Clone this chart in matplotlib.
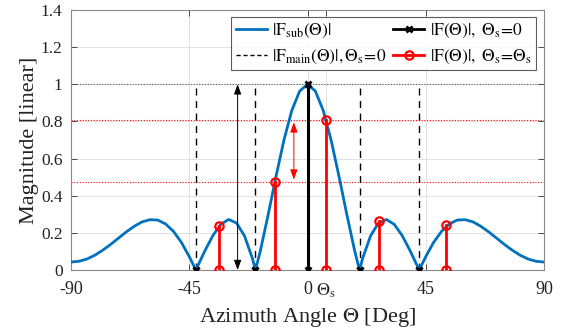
import matplotlib
matplotlib.use('Agg')
import matplotlib.pyplot as plt
from matplotlib.lines import Line2D
import numpy as np

plt.rcParams['font.family'] = ['Liberation Serif', 'DejaVu Serif']
plt.rcParams['mathtext.fontset'] = 'stix'

# |F_sub(theta)| (deg, linear)
theta = [-90, -87, -84, -81, -78, -75, -72, -69, -66, -63, -60, -57, -54, -51, -48, -45,
         -42.5, -42, -39, -36, -33, -30, -27, -24, -21, -19.8, -18, -15, -12, -9, -6, -3,
         0, 3, 6, 9, 12, 15, 18, 19.8, 21, 24, 27, 30, 33, 36, 39, 42, 42.5,
         45, 48, 51, 54, 57, 60, 63, 66, 69, 72, 75, 78, 81, 84, 87, 90]
f_sub = [0.043, 0.047, 0.059, 0.079, 0.106, 0.137, 0.171, 0.205, 0.235, 0.259, 0.271, 0.269, 0.248, 0.208, 0.149, 0.072,
         0.0, 0.015, 0.105, 0.186, 0.246, 0.272, 0.253, 0.184, 0.064, 0.0, 0.100, 0.296, 0.503, 0.698, 0.858, 0.963,
         1.0, 0.963, 0.858, 0.698, 0.503, 0.296, 0.100, 0.0, 0.064, 0.184, 0.253, 0.272, 0.246, 0.186, 0.105, 0.015, 0.0,
         0.072, 0.149, 0.208, 0.248, 0.269, 0.271, 0.259, 0.235, 0.205, 0.171, 0.137, 0.106, 0.079, 0.059, 0.047, 0.043]

# samples of the full pattern, steered to 0 and steered to theta_s
black_ang = [-42.5, -19.8, 0, 19.8, 42.5]
black_val = [0, 0, 1, 0, 0]
red_ang = [-33.6, -12.4, 6.9, 27.3, 52.8]
red_val = [0.239, 0.472, 0.81, 0.265, 0.24]
theta_s = 6.9

xticks = [-90, -45, 0, theta_s, 45, 90]
xticklabels = ['-90', '-45', '0', r'$\Theta_\mathrm{s}$', '45', '90']
yticks = [0, 0.2, 0.4, 0.6, 0.8, 1, 1.2, 1.4]
yticklabels = ['0', '0.2', '0.4', '0.6', '0.8', '1', '1.2', '1.4']

# where the two double arrows sit
arrow_main_x = -26.6
arrow_red_x = -5.2

blue = '#0072BD'

fig = plt.figure(figsize=(5.61, 3.32), dpi=100)
ax = fig.add_axes([0.1266, 0.1867, 0.8431, 0.7832])

ax.plot(theta, f_sub, color=blue, lw=2, zorder=3)

# dashed main-beam lines at the nulls
nulls = [a for a, v in zip(black_ang, black_val) if v == 0]
ax.vlines(nulls, 0, 1, colors='k', linestyles=(0, (5, 4)), lw=1, zorder=2)

# dotted reference levels
ax.axhline(max(black_val), color='#555555', ls=(0, (1, 1.5)), lw=0.8, zorder=1)
ax.axhline(red_val[2], color='r', ls=(0, (1, 1.5)), lw=0.8, zorder=1)
ax.axhline(red_val[1], color='r', ls=(0, (1, 1.5)), lw=0.8, zorder=1)

for a, v in zip(black_ang, black_val):
    ax.plot([a, a], [0, v], color='k', lw=2.2, marker='x', ms=4, mew=2, zorder=4)
for a, v in zip(red_ang, red_val):
    ax.plot([a, a], [0, v], color='r', lw=2, marker='o', ms=6, mew=1.6, mfc='none', zorder=5)

ax.annotate('', xy=(arrow_main_x, max(black_val)), xytext=(arrow_main_x, 0),
            arrowprops=dict(arrowstyle='<|-|>,head_length=0.6,head_width=0.22', color='k', lw=0.7,
                            shrinkA=0, shrinkB=0), zorder=6)
ax.annotate('', xy=(arrow_red_x, red_val[2]), xytext=(arrow_red_x, red_val[1]),
            arrowprops=dict(arrowstyle='<|-|>,head_length=0.6,head_width=0.22', color='r', lw=0.7,
                            shrinkA=2, shrinkB=2), zorder=6)

ax.set_xlim(-90, 90)
ax.set_ylim(0, 1.4)
ax.set_xticks(xticks)
ax.set_xticklabels(xticklabels)
ax.set_yticks(yticks)
ax.set_yticklabels(yticklabels)
ax.tick_params(direction='in', top=True, right=True, length=4, width=0.6, colors='#333333',
               labelsize=13, labelcolor='#222222')
ax.tick_params(axis='x', pad=8)
ax.tick_params(axis='y', pad=6, labelsize=12.5)
ax.grid(True, color='#dddddd', lw=0.6, zorder=0)
ax.set_axisbelow(True)
for sp in ax.spines.values():
    sp.set_color('#888888')
    sp.set_linewidth(0.8)

ax.set_xlabel(r'Azimuth Angle $\Theta$ [Deg]', fontsize=16, labelpad=5, color='#222222')
ax.set_ylabel('Magnitude [linear]', fontsize=16, labelpad=1.5, color='#222222')

handles = [
    Line2D([], [], color=blue, lw=2),
    Line2D([], [], color='k', lw=1, ls=(0, (3, 2))),
    Line2D([], [], color='k', lw=2, marker='x', ms=4, mew=2),
    Line2D([], [], color='r', lw=2, marker='o', ms=6, mew=1.6, mfc='none'),
]
labels = [
    r'$|\mathrm{F}_{\mathrm{sub}}(\Theta)|$',
    r'$|\mathrm{F}_{\mathrm{main}}(\Theta)|,\Theta_\mathrm{s}\!=\!0$',
    r'$|\mathrm{F}(\Theta)|,\ \Theta_\mathrm{s}\!=\!0$',
    r'$|\mathrm{F}(\Theta)|,\ \Theta_\mathrm{s}\!=\!\Theta_\mathrm{s}$',
]
leg = ax.legend(handles, labels, ncol=2, loc='upper right', bbox_to_anchor=(0.983, 0.972),
                fontsize=12.5, frameon=True, fancybox=False, edgecolor='#333333',
                handlelength=1.8, handletextpad=0.3, columnspacing=0.4, labelspacing=0.45,
                borderpad=0.25, borderaxespad=0)
leg.get_frame().set_linewidth(0.8)
leg.set_zorder(10)

fig.savefig('out.png', dpi=100)
